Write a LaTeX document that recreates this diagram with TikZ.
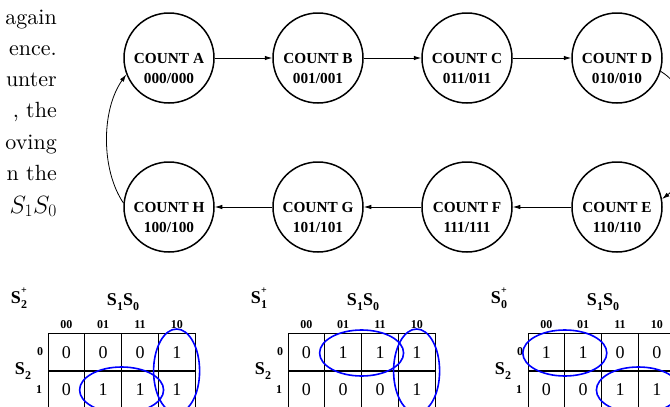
\RequirePackage{fix-cm}
\documentclass[tikz,border=0pt]{standalone}
\usepackage{fontspec}
\newfontfamily\tnr{Liberation Serif}
\newfontfamily\lmten{lmroman10-regular.otf}
\usetikzlibrary{arrows.meta}
\newcommand\sbx[1]{\raisebox{-0.3em}{\fontsize{12}{12}\selectfont #1}}
\newcommand\kmapdraw[5]{%
 \begin{scope}[xshift=#1pt]
  \node[ttl] (#2t) at (19,298) {S\rlap{\raisebox{0.55em}{\fontsize{10}{10}\selectfont +}}\sbx{#3}};
  \node[ttl] (#2s) at (123,302) {S\sbx{1}S\sbx{0}};
  \foreach \h [count=\i from 0] in {00,01,11,10}
    \node[hdr] (#2h\i) at (66.4+36.8*\i,325) {\h};
  \node[hdr] (#2r0) at (40,352) {0};
  \node[hdr] (#2r1) at (39,390) {1};
  \node[ttl] (#2S) at (23,371) {S\sbx{2}};
  \draw[gridl] (48,333) -- (195.2,333);
  \foreach \i in {0,...,4} \draw[gridl] (48+36.8*\i,333) -- (48+36.8*\i,415);
  \draw[line width=1.6pt] (48,371) -- (195.2,371);
  \foreach \v [count=\i from 0] in {#4}
    \node[cell] (#2a\i) at (66.4+36.8*\i,353) {\v};
  \foreach \v [count=\i from 0] in {#5}
    \node[cell] (#2b\i) at (66.4+36.8*\i,390) {\v};
 \end{scope}}
\begin{document}
\begin{tikzpicture}[x=1pt,y=-1pt,
  state/.style={circle,draw,line width=1.5pt,minimum size=90pt,inner sep=0pt},
  slabel/.style={font=\tnr\bfseries\fontsize{15.3}{20}\selectfont,align=center,inner sep=0pt},
  arr/.style={-{Latex[length=7.5pt,width=4.5pt]},line width=0.8pt},
  body/.style={font=\lmten\fontsize{22}{26}\selectfont,anchor=base east,inner sep=0pt},
  cell/.style={font=\tnr\fontsize{18}{18}\selectfont,inner sep=0pt},
  hdr/.style={font=\tnr\bfseries\fontsize{12}{12}\selectfont,inner sep=0pt},
  ttl/.style={font=\tnr\bfseries\fontsize{18}{18}\selectfont,inner sep=0pt},
  grp/.style={draw=blue,line width=1.6pt},
  gridl/.style={line width=0.9pt},
  ]
\useasboundingbox (0,0) rectangle (670,407);
\clip (0,0) rectangle (670,407);
% body text fragments
\node[body] (t1) at (57,24) {again};
\node[body] (t2) at (57,55.3) {ence.};
\node[body] (t3) at (57,86.6) {unter};
\node[body] (t4) at (57,117.9) {, the};
\node[body] (t5) at (57,149.2) {oving};
\node[body] (t6) at (57,180.5) {n the};
\node[body,font=\fontsize{25}{28}\selectfont] (t7) at (57,213) {$S_1S_0$};
% states
\foreach \n/\x/\y in {A/169/58,B/318/58,C/467/58,D/617/58,E/617/207,F/467/207,G/318/207,H/169/207}
  \node[state] (\n) at (\x,\y) {};
\node[slabel] (Al) at ([yshift=-11pt]A.center) {COUNT A\\000/000};
\node[slabel] (Bl) at ([yshift=-11pt]B.center) {COUNT B\\001/001};
\node[slabel] (Cl) at ([yshift=-11pt]C.center) {COUNT C\\011/011};
\node[slabel] (Dl) at ([yshift=-11pt]D.center) {COUNT D\\010/010};
\node[slabel] (El) at ([yshift=-11pt]E.center) {COUNT E\\110/110};
\node[slabel] (Fl) at ([yshift=-11pt]F.center) {COUNT F\\111/111};
\node[slabel] (Gl) at ([yshift=-11pt]G.center) {COUNT G\\101/101};
\node[slabel] (Hl) at ([yshift=-11pt]H.center) {COUNT H\\100/100};
\draw[arr] (A) -- (B);
\draw[arr] (B) -- (C);
\draw[arr] (C) -- (D);
\draw[arr] (D.-17) .. controls (700,95) and (700,170) .. (E.10);
\draw[arr] (E) -- (F);
\draw[arr] (F) -- (G);
\draw[arr] (G) -- (H);
\draw[arr] (H.175) .. controls (101,170) and (101,110) .. (A.-159);
% K-maps
\kmapdraw{0}{ka}{2}{0,0,0,1}{0,1,1,1}
\kmapdraw{240}{kb}{1}{0,1,1,1}{0,0,0,1}
\kmapdraw{480}{kc}{0}{1,1,0,0}{0,0,1,1}
\draw[grp] (176.6,371) ellipse [x radius=23, y radius=42];
\draw[grp] (121.6,390) ellipse [x radius=42, y radius=23];
\draw[grp] (361.6,353) ellipse [x radius=42, y radius=23];
\draw[grp] (416.6,371) ellipse [x radius=23, y radius=42];
\draw[grp] (564.8,353) ellipse [x radius=42, y radius=23];
\draw[grp] (638.4,390) ellipse [x radius=42, y radius=23];
\end{tikzpicture}
\end{document}
